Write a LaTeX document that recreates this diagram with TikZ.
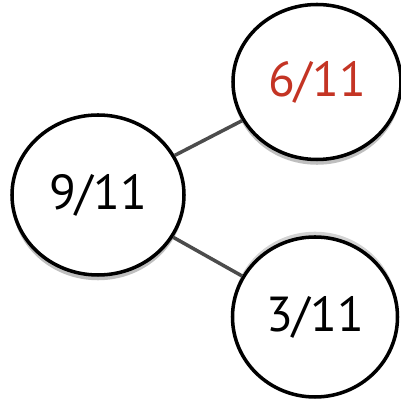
\documentclass[tikz,border=0pt]{standalone}
\usepackage{fontspec}
\setmainfont{PT Sans}
\usepackage{xcolor}
\usepackage{tikz}
\usetikzlibrary{shapes.geometric}
\usetikzlibrary{shadows}
\definecolor{fracred}{RGB}{196,52,36}
\tikzset{
	frac/.style={
		ellipse,
		draw,
		line width=2pt,
		fill=white,
		inner sep=0pt,
		font=\fontsize{28}{32}\selectfont},
	shadowdown/.style={drop shadow={shadow xshift=0pt, shadow yshift=-3pt, opacity=0.5}},
	shadowup/.style={drop shadow={shadow xshift=0pt, shadow yshift=3pt, opacity=0.35}},
	link/.style={
		draw=black!70,
		line width=2pt}
}

\begin{document}
\begin{tikzpicture}
	\useasboundingbox (0,0) rectangle (8.02,8);
	\node[frac, shadowdown, minimum width=3.44cm, minimum height=3.2cm] (n9) at (1.96,4.10) {\raisebox{-0.17cm}{9/11}};
	\node[frac, shadowdown, minimum width=3.36cm, minimum height=3.1cm, text=fracred] (n6) at (6.34,6.36) {\raisebox{0.12cm}{6/11}};
	\node[frac, shadowup, minimum width=3.3cm, minimum height=3.2cm] (n3) at (6.30,1.66) {3/11};
	\draw[link] (n9) -- (n6);
	\draw[link] (n9) -- (n3);
\end{tikzpicture}
\end{document}
